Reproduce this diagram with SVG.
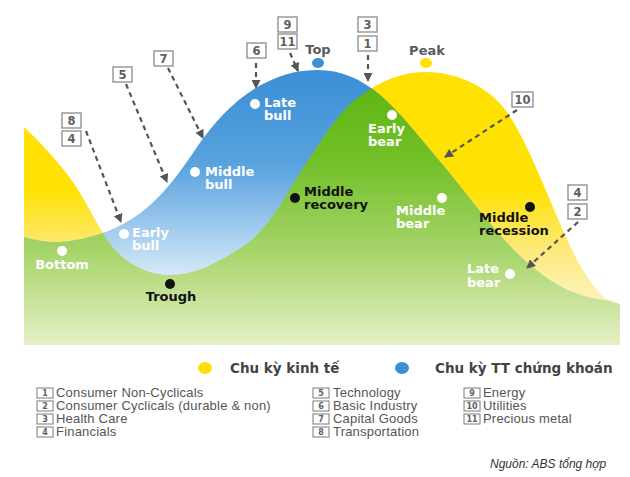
<svg xmlns="http://www.w3.org/2000/svg" width="630" height="477" viewBox="0 0 630 477">
<style>
.lbl{font-family:"DejaVu Sans",Verdana,sans-serif;font-weight:bold;font-size:13px}
.w{fill:#ffffff}
.k{fill:#111111}
.g{fill:#5a5a5a}
.box{fill:#ffffff;stroke:#8a8a8a;stroke-width:1.3}
.bn{font-family:"DejaVu Sans",Verdana,sans-serif;font-weight:bold;font-size:11.5px;fill:#606060;text-anchor:middle}
.lbox{fill:#ffffff;stroke:#7a7a7a;stroke-width:1}
.lbn{font-family:"DejaVu Sans",Verdana,sans-serif;font-weight:bold;font-size:8px;fill:#606060;text-anchor:middle}
.leg{font-family:"Liberation Sans",Arial,sans-serif;font-size:13px;letter-spacing:0.2px;fill:#555555}
.ttl{font-family:"DejaVu Sans",Verdana,sans-serif;font-weight:bold;font-size:13.5px;fill:#444444}
.dash{fill:none;stroke:#555555;stroke-width:2.2;stroke-dasharray:5 4;marker-end:url(#ah)}
</style>
<defs>
<linearGradient id="gy" gradientUnits="userSpaceOnUse" x1="0" y1="70" x2="0" y2="310">
<stop offset="0" stop-color="#ffe000"/>
<stop offset="0.5" stop-color="#ffe204"/>
<stop offset="0.75" stop-color="#fde97a"/>
<stop offset="1" stop-color="#fdf5c8"/>
</linearGradient>
<linearGradient id="gb" gradientUnits="userSpaceOnUse" x1="0" y1="70" x2="0" y2="280">
<stop offset="0" stop-color="#3a8fd5"/>
<stop offset="0.45" stop-color="#58a2de"/>
<stop offset="1" stop-color="#dbecf9"/>
</linearGradient>
<linearGradient id="gg" gradientUnits="userSpaceOnUse" x1="0" y1="85" x2="0" y2="345">
<stop offset="0" stop-color="#5cb712"/>
<stop offset="0.3" stop-color="#74c02a"/>
<stop offset="0.65" stop-color="#a8d56c"/>
<stop offset="1" stop-color="#e6f0c8"/>
</linearGradient>
<path id="yshape" d="M24,127 C40,142 60,163 75,185 C90,208 100,232 115,250 C130,266 150,275 170,275 C195,275 220,262 245,245 C270,228 285,195 305,165 C325,135 340,110 360,96 C380,82 400,72 425,72 C455,72 485,85 503,107 C520,128 535,165 550,200 C565,235 580,275 605,298 L620,304 L620,345 L24,345 Z"/>
<path id="bshape" d="M24,237 C40,242 55,243 70,241 C90,238 110,232 130,220 C155,205 175,180 195,150 C215,120 240,95 265,83 C285,73 300,70 318,70 C340,70 360,78 380,95 C400,112 420,138 447,170 C465,192 480,212 500,235 C520,258 545,280 570,291 C585,297 595,299 605,300 L620,304 L620,345 L24,345 Z"/>
<clipPath id="bclip"><use href="#bshape"/></clipPath>
<marker id="ah" markerUnits="userSpaceOnUse" markerWidth="9" markerHeight="9" refX="8" refY="4.5" orient="auto">
<path d="M0,0 L9,4.5 L0,9 Z" fill="#555555"/>
</marker>
</defs>
<rect width="630" height="477" fill="#ffffff"/>
<g id="chart">
<use href="#yshape" fill="url(#gy)"/>
<use href="#bshape" fill="url(#gb)"/>
<use href="#yshape" fill="url(#gg)" clip-path="url(#bclip)"/>
</g>
<g id="connectors">
<line class="dash" x1="86" y1="131" x2="121" y2="222"/>
<line class="dash" x1="126" y1="84" x2="167" y2="182"/>
<line class="dash" x1="168" y1="68" x2="203" y2="138"/>
<line class="dash" x1="256" y1="63" x2="256" y2="88"/>
<line class="dash" x1="290" y1="53" x2="298" y2="71"/>
<line class="dash" x1="368" y1="55" x2="368" y2="81"/>
<line class="dash" x1="517" y1="110" x2="445" y2="157"/>
<line class="dash" x1="578" y1="222" x2="527" y2="268"/>
</g>
<g id="node-top"><ellipse cx="318" cy="63" rx="6" ry="5" fill="#3a8fd5"/><text class="lbl g" x="318" y="54" text-anchor="middle" font-size="12">Top</text></g>
<g id="node-peak"><ellipse cx="426" cy="63" rx="6" ry="5" fill="#ffe000"/><text class="lbl g" x="427" y="55" text-anchor="middle" font-size="12.5">Peak</text></g>
<g id="node-late-bull"><circle cx="255" cy="104" r="5" fill="#fff"/><text class="lbl w" x="264"><tspan x="264" y="107">Late</tspan><tspan x="264" y="120">bull</tspan></text></g>
<g id="node-middle-bull"><circle cx="195" cy="172" r="5" fill="#fff"/><text class="lbl w"><tspan x="205" y="176">Middle</tspan><tspan x="205" y="189">bull</tspan></text></g>
<g id="node-early-bull"><circle cx="124" cy="234" r="5" fill="#fff"/><text class="lbl w"><tspan x="132" y="237">Early</tspan><tspan x="132" y="250">bull</tspan></text></g>
<g id="node-bottom"><circle cx="62" cy="251" r="5" fill="#fff"/><text class="lbl w" x="62" y="269" text-anchor="middle">Bottom</text></g>
<g id="node-trough"><circle cx="170" cy="284" r="5" fill="#111"/><text class="lbl k" x="171" y="301" text-anchor="middle">Trough</text></g>
<g id="node-middle-recovery"><circle cx="295" cy="198" r="5" fill="#111"/><text class="lbl k"><tspan x="304" y="196">Middle</tspan><tspan x="304" y="209">recovery</tspan></text></g>
<g id="node-early-bear"><circle cx="392" cy="115" r="5" fill="#fff"/><text class="lbl w"><tspan x="368" y="133">Early</tspan><tspan x="368" y="146">bear</tspan></text></g>
<g id="node-middle-bear"><circle cx="442" cy="198" r="5" fill="#fff"/><text class="lbl w"><tspan x="396" y="215">Middle</tspan><tspan x="396" y="228">bear</tspan></text></g>
<g id="node-middle-recession"><circle cx="530" cy="207" r="5" fill="#111"/><text class="lbl k"><tspan x="479" y="222">Middle</tspan><tspan x="479" y="235">recession</tspan></text></g>
<g id="node-late-bear"><circle cx="510" cy="274" r="5" fill="#fff"/><text class="lbl w"><tspan x="467" y="273">Late</tspan><tspan x="467" y="287">bear</tspan></text></g>
<g id="tag-9"><rect class="box" x="278" y="17" width="19" height="15"/><text class="bn" x="287.5" y="29">9</text></g>
<g id="tag-11"><rect class="box" x="278" y="34" width="19" height="15"/><text class="bn" x="287.5" y="46">11</text></g>
<g id="tag-6"><rect class="box" x="247" y="43" width="19" height="15"/><text class="bn" x="256.5" y="55">6</text></g>
<g id="tag-7"><rect class="box" x="154" y="51" width="19" height="15"/><text class="bn" x="163.5" y="63">7</text></g>
<g id="tag-5"><rect class="box" x="113" y="67" width="19" height="15"/><text class="bn" x="122.5" y="79">5</text></g>
<g id="tag-8"><rect class="box" x="62" y="113" width="19" height="15"/><text class="bn" x="71.5" y="125">8</text></g>
<g id="tag-4a"><rect class="box" x="62" y="131" width="19" height="15"/><text class="bn" x="71.5" y="143">4</text></g>
<g id="tag-3"><rect class="box" x="358" y="17" width="19" height="15"/><text class="bn" x="367.5" y="29">3</text></g>
<g id="tag-1"><rect class="box" x="358" y="36" width="19" height="15"/><text class="bn" x="367.5" y="48">1</text></g>
<g id="tag-10"><rect class="box" x="512" y="92" width="21" height="15"/><text class="bn" x="522.5" y="104">10</text></g>
<g id="tag-4b"><rect class="box" x="568" y="185" width="19" height="15"/><text class="bn" x="577.5" y="197">4</text></g>
<g id="tag-2"><rect class="box" x="568" y="204" width="19" height="15"/><text class="bn" x="577.5" y="216">2</text></g>
<g id="legend-cycles">
<ellipse cx="205" cy="368" rx="7" ry="6" fill="#ffe000"/>
<text class="ttl" x="230" y="373">Chu kỳ kinh tế</text>
<ellipse cx="402" cy="368" rx="7" ry="6" fill="#3a8fd5"/>
<text class="ttl" x="435" y="373">Chu kỳ TT chứng khoán</text>
</g>
<g id="legend-sectors">
<rect class="lbox" x="37" y="388" width="16" height="10"/><text class="lbn" x="45" y="396">1</text><text class="leg" x="56" y="397">Consumer Non-Cyclicals</text>
<rect class="lbox" x="37" y="401" width="16" height="10"/><text class="lbn" x="45" y="409">2</text><text class="leg" x="56" y="410">Consumer Cyclicals (durable &amp; non)</text>
<rect class="lbox" x="37" y="414" width="16" height="10"/><text class="lbn" x="45" y="422">3</text><text class="leg" x="56" y="423">Health Care</text>
<rect class="lbox" x="37" y="427" width="16" height="10"/><text class="lbn" x="45" y="435">4</text><text class="leg" x="56" y="436">Financials</text>
<rect class="lbox" x="313" y="388" width="16" height="10"/><text class="lbn" x="321" y="396">5</text><text class="leg" x="333" y="397">Technology</text>
<rect class="lbox" x="313" y="401" width="16" height="10"/><text class="lbn" x="321" y="409">6</text><text class="leg" x="333" y="410">Basic Industry</text>
<rect class="lbox" x="313" y="414" width="16" height="10"/><text class="lbn" x="321" y="422">7</text><text class="leg" x="333" y="423">Capital Goods</text>
<rect class="lbox" x="313" y="427" width="16" height="10"/><text class="lbn" x="321" y="435">8</text><text class="leg" x="333" y="436">Transportation</text>
<rect class="lbox" x="464" y="388" width="16" height="10"/><text class="lbn" x="472" y="396">9</text><text class="leg" x="483" y="397">Energy</text>
<rect class="lbox" x="464" y="401" width="16" height="10"/><text class="lbn" x="472" y="409">10</text><text class="leg" x="483" y="410">Utilities</text>
<rect class="lbox" x="464" y="414" width="16" height="10"/><text class="lbn" x="472" y="422">11</text><text class="leg" x="483" y="423">Precious metal</text>
</g>
<text id="source" x="490" y="468" font-family="Liberation Sans,Arial,sans-serif" font-style="italic" font-size="12" fill="#333333">Nguồn: ABS tổng hợp</text>
</svg>
